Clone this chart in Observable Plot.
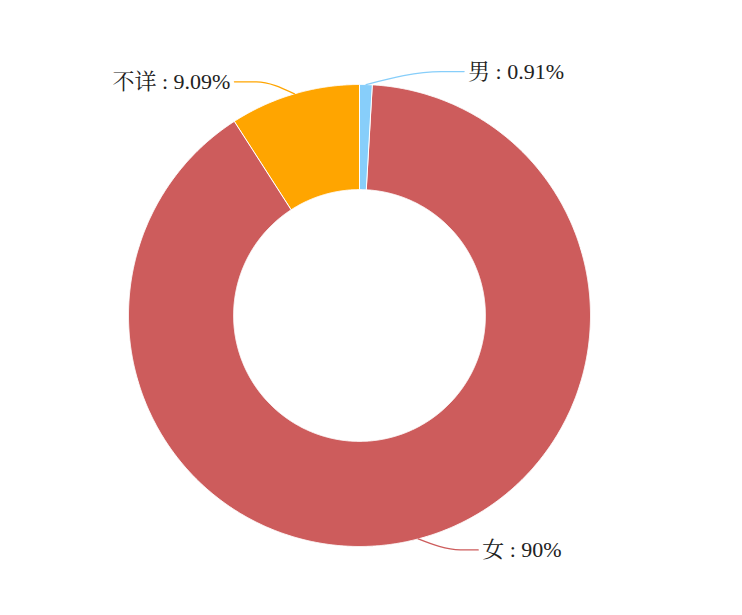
<!DOCTYPE html>
<html>
<head>
<meta charset="utf-8">
<script src="https://cdn.jsdelivr.net/npm/d3@7"></script>
<script src="https://cdn.jsdelivr.net/npm/@observablehq/plot@0.6"></script>
<style>
  html, body { margin: 0; padding: 0; background: #fff; }
  #chart { width: 742px; height: 615px; }
</style>
</head>
<body>
<div id="chart"></div>
<script>
// ---- data ----
const categories = ["男", "女", "不详"];
const values = [0.91, 90, 9.09];
const colors = ["#87CEFA", "#CD5C5C", "#FFA500"];

// ---- layout constants ----
const W = 742, H = 615;
const CX = 359, CY = 315, R_PX = 231;
const INNER = 0.545;            // inner radius / outer radius
const PX = 1 / R_PX;            // one pixel in data units
// leader line: [elbow dx, elbow dy, horizontal length] in pixels (screen coords)
const leader = {
  "男":   [75, -13, 23],
  "女":   [42, 11, 18],
  "不详": [-38, -12, -22]
};

const total = d3.sum(values);
let acc = 0;
const slices = categories.map((c, i) => {
  const a0 = acc / total * 2 * Math.PI;
  acc += values[i];
  const a1 = acc / total * 2 * Math.PI;
  return {category: c, value: values[i], color: colors[i], a0, a1, mid: (a0 + a1) / 2};
});

function polygon(s) {
  const pts = [];
  const n = Math.max(2, Math.ceil((s.a1 - s.a0) / (Math.PI / 720)));
  for (let k = 0; k <= n; k++) {
    const a = s.a0 + (s.a1 - s.a0) * k / n;
    pts.push({x: Math.sin(a), y: Math.cos(a), category: s.category});
  }
  for (let k = n; k >= 0; k--) {
    const a = s.a0 + (s.a1 - s.a0) * k / n;
    pts.push({x: INNER * Math.sin(a), y: INNER * Math.cos(a), category: s.category});
  }
  return pts;
}

const leaders = slices.map(s => {
  const [dx, dy, h] = leader[s.category];
  const start = {x: Math.sin(s.mid), y: Math.cos(s.mid)};
  const elbow = {x: start.x + dx * PX, y: start.y - dy * PX};
  const end = {x: elbow.x + h * PX, y: elbow.y};
  return {s, pts: [start, elbow, end], end, side: Math.sign(h)};
});

const marks = [];
for (const s of slices) {
  marks.push(Plot.line(polygon(s), {
    x: "x", y: "y", curve: "linear-closed",
    fill: s.color, stroke: "#fff", strokeWidth: 1, strokeLinejoin: "round"
  }));
}
for (const l of leaders) {
  marks.push(Plot.line(l.pts, {
    x: "x", y: "y", curve: "monotone-x",
    stroke: l.s.color, strokeWidth: 1.3
  }));
}
const font = "'Liberation Serif', 'Noto Serif CJK SC', 'Noto Sans CJK SC', serif";
for (const side of [1, -1]) {
  marks.push(Plot.text(leaders.filter(d => d.side === side), {
    x: d => d.end.x + side * 4 * PX,
    y: d => d.end.y,
    text: d => `${d.s.category} : ${d.s.value}%`,
    textAnchor: side > 0 ? "start" : "end",
    fontSize: 22,
    fontFamily: font,
    fill: "#222"
  }));
}

const chart = Plot.plot({
  width: W, height: H,
  margin: 0,
  x: {type: "linear", domain: [-1, 1], range: [CX - R_PX, CX + R_PX], axis: null},
  y: {type: "linear", domain: [-1, 1], range: [CY + R_PX, CY - R_PX], axis: null},
  style: {background: "#fff", overflow: "visible"},
  marks
});
document.getElementById("chart").appendChild(chart);
</script>
</body>
</html>
